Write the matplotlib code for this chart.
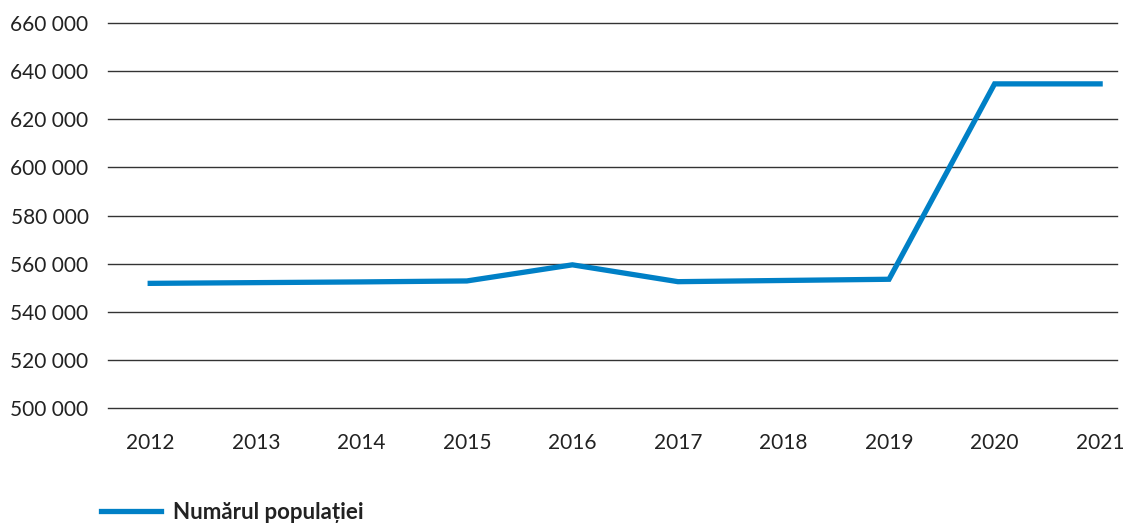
import matplotlib.pyplot as plt
from matplotlib.ticker import FuncFormatter

years = ["2012", "2013", "2014", "2015", "2016", "2017", "2018", "2019", "2020", "2021"]
population = [551800, 552100, 552400, 552800, 559500, 552500, 553000, 553500, 634700, 634700]
y_ticks = [500000, 520000, 540000, 560000, 580000, 600000, 620000, 640000, 660000]

plt.rcParams['font.family'] = ['Lato', 'DejaVu Sans']

fig = plt.figure(figsize=(11.27, 5.23), dpi=100)
ax = fig.add_axes([108 / 1127, 115 / 523, 1009 / 1127, 385 / 523])

x = range(len(years))
ax.plot(x, population, color='#0080c6', linewidth=3.8, solid_joinstyle='miter',
        label='Numărul populației')

ax.set_ylim(500000, 660000)
ax.set_xlim(-0.4, 9.16)
ax.set_yticks(y_ticks)
ax.yaxis.set_major_formatter(FuncFormatter(lambda v, p: f"{int(v):,}".replace(",", " ")))
ax.set_xticks(list(x))
ax.set_xticklabels(years)

ax.grid(axis='y', color='#333333', linewidth=1)
for g in ax.yaxis.get_gridlines():
    g.set_clip_on(False)
ax.set_axisbelow(True)
for s in ax.spines.values():
    s.set_visible(False)
ax.tick_params(axis='both', length=0, labelsize=15, colors='#222222')
ax.tick_params(axis='y', pad=14)
ax.tick_params(axis='x', pad=18)

leg = fig.legend(loc='lower left', bbox_to_anchor=(81 / 1127, -20 / 523), frameon=False,
                 handlelength=2.7, handletextpad=0.55,
                 prop={'weight': 'bold', 'size': 16})
for t in leg.get_texts():
    t.set_color('#222222')

fig.savefig('out.png', dpi=100)
